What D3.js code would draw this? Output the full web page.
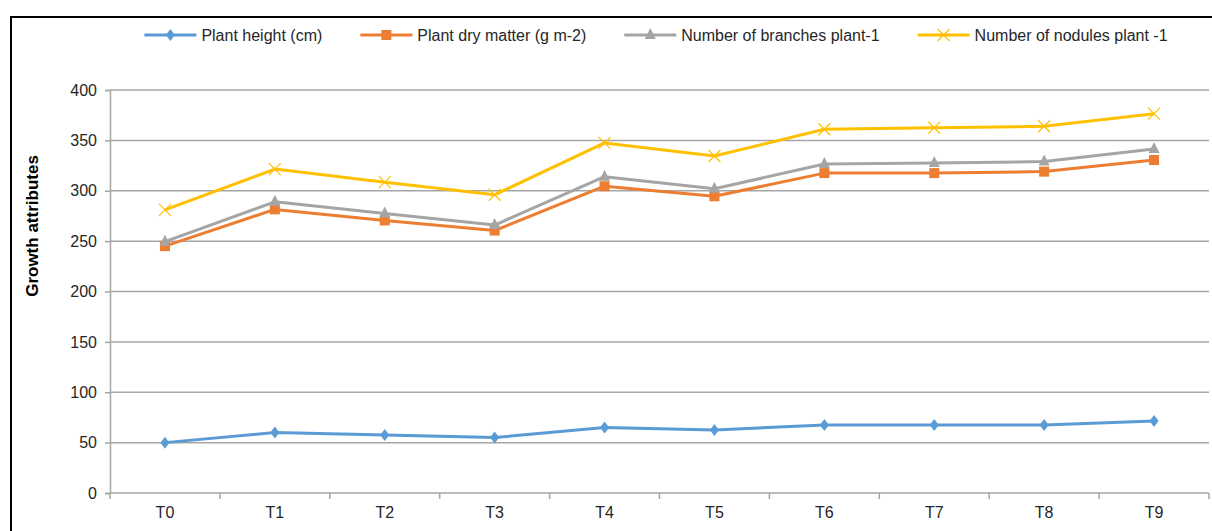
<!DOCTYPE html>
<html>
<head>
<meta charset="utf-8">
<script src="https://cdn.jsdelivr.net/npm/d3@7"></script>
<style>
  html, body { margin: 0; padding: 0; background: #fff; }
  svg { display: block; font-family: "Liberation Sans", Arial, sans-serif; }
</style>
</head>
<body>
<svg id="chart" width="1212" height="531"></svg>
<script>
// Treatments on the x axis
const treatments = ["T0", "T1", "T2", "T3", "T4", "T5", "T6", "T7", "T8", "T9"];

// Growth attributes per treatment
const plantHeight   = [50, 60, 57.5, 55, 65, 62.5, 67.5, 67.5, 67.5, 71.5];
const dryMatter     = [245, 281.5, 270.5, 260.5, 304.5, 294.5, 317.5, 317.5, 319, 330.5];
const branches      = [249.5, 289, 277.5, 266, 314, 302, 326.5, 327.5, 329, 341.5];
const nodules       = [281, 321.5, 308.5, 296, 347.5, 334.5, 361, 362.5, 364, 376.5];

const yTicks = [0, 50, 100, 150, 200, 250, 300, 350, 400];

const seriesNames = [
  "Plant height (cm)",
  "Plant dry matter (g m-2)",
  "Number of branches plant-1",
  "Number of nodules plant -1"
];

const series = [
  { name: seriesNames[0], values: plantHeight, color: "#5B9BD5", marker: "diamond" },
  { name: seriesNames[1], values: dryMatter,   color: "#ED7D31", marker: "square" },
  { name: seriesNames[2], values: branches,    color: "#A5A5A5", marker: "triangle" },
  { name: seriesNames[3], values: nodules,     color: "#FFC000", marker: "cross" }
];

const svg = d3.select("#chart");

// Frame around the chart
svg.append("path")
  .attr("d", "M11,531 L11,17 L1212,17")
  .attr("fill", "none")
  .attr("stroke", "#000")
  .attr("stroke-width", 2);

const plot = { left: 110, right: 1209, top: 90, bottom: 493 };

const x = d3.scaleBand().domain(treatments).range([plot.left, plot.right]).padding(0);
const y = d3.scaleLinear().domain([0, 400]).range([plot.bottom, plot.top]);
const cx = d => x(d) + x.bandwidth() / 2;

// Horizontal gridlines
svg.append("g")
  .selectAll("line")
  .data(yTicks.filter(t => t > 0))
  .join("line")
  .attr("x1", plot.left).attr("x2", plot.right)
  .attr("y1", d => y(d)).attr("y2", d => y(d))
  .attr("stroke", "#a6a6a6")
  .attr("stroke-width", 1.5);

// Y axis
const yAxis = svg.append("g")
  .attr("transform", `translate(${plot.left},0)`)
  .call(d3.axisLeft(y).tickValues(yTicks).tickSize(5).tickPadding(8));
yAxis.select(".domain").attr("stroke", "#a6a6a6").attr("stroke-width", 1.5);
yAxis.selectAll(".tick line").attr("stroke", "#a6a6a6").attr("stroke-width", 1.5);
yAxis.selectAll(".tick text")
  .attr("fill", "#262626")
  .style("font-size", "16px")
  .style("font-family", "'Liberation Sans', Arial, sans-serif");

// X axis with tick marks at category boundaries
const xAxis = svg.append("g")
  .attr("transform", `translate(0,${plot.bottom})`);
xAxis.append("line")
  .attr("x1", plot.left).attr("x2", plot.right)
  .attr("y1", 0).attr("y2", 0)
  .attr("stroke", "#a6a6a6").attr("stroke-width", 1.5);
xAxis.selectAll("line.sep")
  .data(treatments.map(t => x(t)).concat([plot.right]))
  .join("line")
  .attr("class", "sep")
  .attr("x1", d => d).attr("x2", d => d)
  .attr("y1", 0).attr("y2", 6)
  .attr("stroke", "#a6a6a6").attr("stroke-width", 1.5);
xAxis.selectAll("text")
  .data(treatments)
  .join("text")
  .attr("x", d => cx(d))
  .attr("y", 24.5)
  .attr("text-anchor", "middle")
  .attr("fill", "#262626")
  .style("font-size", "16px")
  .text(d => d);

// Y axis title
svg.append("text")
  .attr("transform", "translate(38,226) rotate(-90)")
  .attr("text-anchor", "middle")
  .attr("fill", "#000")
  .style("font-size", "17px")
  .style("font-weight", "bold")
  .text("Growth attributes");

// Marker shapes
function drawMarker(g, kind, color, px, py) {
  if (kind === "diamond") {
    g.append("path")
      .attr("d", `M${px},${py - 6} L${px + 4.5},${py} L${px},${py + 6} L${px - 4.5},${py} Z`)
      .attr("fill", color);
  } else if (kind === "square") {
    g.append("rect")
      .attr("x", px - 5).attr("y", py - 5)
      .attr("width", 10).attr("height", 10)
      .attr("fill", color);
  } else if (kind === "triangle") {
    g.append("path")
      .attr("d", `M${px},${py - 7} L${px + 5.5},${py + 4} L${px - 5.5},${py + 4} Z`)
      .attr("fill", color);
  } else if (kind === "cross") {
    g.append("path")
      .attr("d", `M${px - 6},${py - 6} L${px + 6},${py + 6} M${px - 6},${py + 6} L${px + 6},${py - 6}`)
      .attr("stroke", color)
      .attr("stroke-width", 1.2)
      .attr("fill", "none");
  }
}

const line = d3.line()
  .x((d, i) => cx(treatments[i]))
  .y(d => y(d));

series.forEach(s => {
  const g = svg.append("g");
  g.append("path")
    .datum(s.values)
    .attr("d", line)
    .attr("fill", "none")
    .attr("stroke", s.color)
    .attr("stroke-width", 3)
    .attr("stroke-linejoin", "round");
  s.values.forEach((v, i) => drawMarker(g, s.marker, s.color, cx(treatments[i]), y(v)));
});

// Legend along the top
const legend = svg.append("g");
const legendY = 35;
const swatch = 52;
const gapText = 5;
const gapItem = 38;
const items = legend.selectAll("g.item")
  .data(series)
  .join("g")
  .attr("class", "item");
items.append("text")
  .attr("y", legendY + 5.5)
  .attr("fill", "#262626")
  .style("font-size", "16px")
  .text(d => d.name);
const widths = [];
items.each(function () {
  widths.push(d3.select(this).select("text").node().getComputedTextLength());
});
const total = d3.sum(widths) + series.length * (swatch + gapText) + (series.length - 1) * gapItem;
let cursor = 656 - total / 2;
items.each(function (d, i) {
  const g = d3.select(this);
  g.insert("line", "text")
    .attr("x1", cursor).attr("x2", cursor + swatch)
    .attr("y1", legendY).attr("y2", legendY)
    .attr("stroke", d.color).attr("stroke-width", 3);
  drawMarker(g, d.marker, d.color, cursor + swatch / 2, legendY);
  g.select("text").attr("x", cursor + swatch + gapText);
  cursor += swatch + gapText + widths[i] + gapItem;
});
</script>
</body>
</html>
